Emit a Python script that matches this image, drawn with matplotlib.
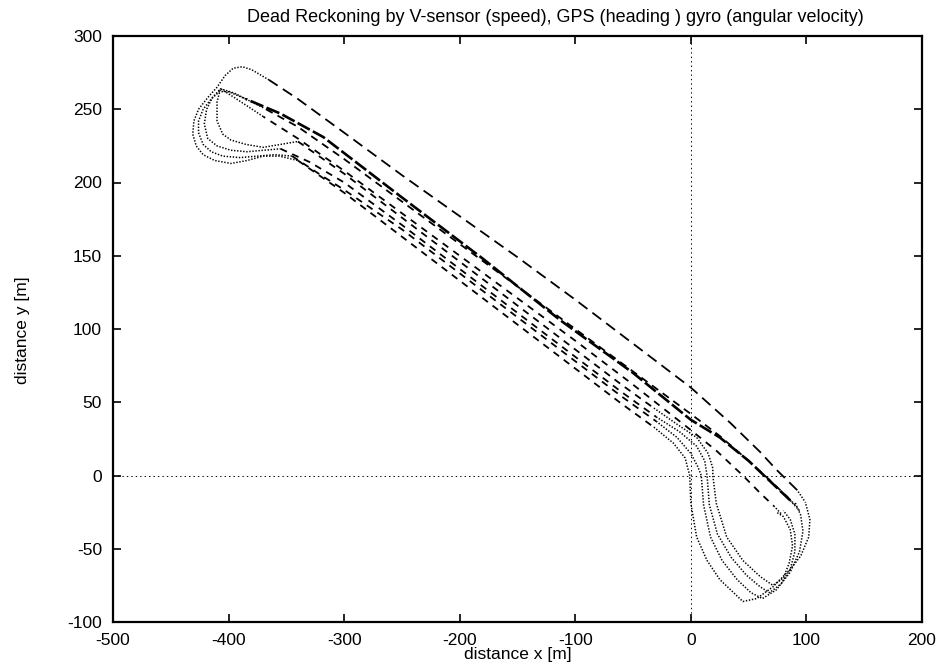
import matplotlib
matplotlib.use("Agg")
import matplotlib.pyplot as plt

plt.rcParams['font.family'] = ['Liberation Sans', 'DejaVu Sans']
plt.rcParams['axes.unicode_minus'] = False
plt.rcParams['lines.scale_dashes'] = False

title = "Dead Reckoning by V-sensor (speed), GPS (heading ) gyro (angular velocity)"
x_label = "distance x [m]"
y_label = "distance y [m]"
x_ticks = [-500, -400, -300, -200, -100, 0, 100, 200]
y_ticks = [-100, -50, 0, 50, 100, 150, 200, 250, 300]

# lap 1 (outermost loops, topmost NW straight)
lap1_x = [98, 92, 74, 60, 34, 0, -50, -100, -150, -200, -250, -300, -340, -365, -380,
          -388, -396, -403, -410, -418, -426, -430, -431, -428, -422, -412, -398, -384, -370, -356, -340,
          -300, -250, -200, -150, -100, -60, -32,
          -15, -5, -1, 0, 5, 14, 25, 37, 45, 57, 71, 86, 95, 102, 103, 99]
lap1_y = [-17, -10, 4, 16, 36, 60, 90, 120, 149, 177, 205, 234, 257, 270, 277,
          279, 278, 273, 265, 258, 250, 242, 233, 225, 219, 215, 213, 215, 218, 218, 215,
          193, 163, 133, 103, 73, 49, 33,
          22, 12, 0, -19, -42, -58, -71, -80, -86, -84, -76, -64, -55, -42, -30, -18]
lap1_splits = [1, 13, 30, 37]

# lap 2 (heavy NW straight)
lap2_x = [94, 86, 70, 50, 25, 0, -50, -113, -180, -252, -318, -355, -385, -400,
          -408, -415, -422, -426, -426, -422, -415, -405, -390, -375, -360, -345,
          -320, -300, -250, -200, -150, -100, -60, -30,
          -12, 0, 6, 9, 11, 17, 27, 40, 52, 62, 74, 86, 94, 97, 95, 90]
lap2_y = [-24, -17, -5, 10, 26, 38, 70, 106, 148, 191, 231, 247, 257, 262,
          262, 257, 250, 242, 234, 226, 221, 218, 217, 218, 219, 218,
          205, 195, 168, 138, 108, 78, 54, 37,
          26, 15, 6, 0, -20, -42, -58, -71, -80, -84, -78, -66, -52, -38, -27, -18]
lap2_splits = [1, 12, 25, 33]

# lap 3
lap3_x = [90, 84, 68, 50, 25, 0, -50, -100, -150, -200, -250, -300, -340, -370, -395,
          -407, -414, -419, -421, -418, -410, -398, -384, -370, -355,
          -330, -300, -250, -200, -150, -100, -60, -30,
          -10, 5, 12, 14, 16, 23, 35, 48, 60, 68, 78, 86, 90, 90, 86, 80]
lap3_y = [-20, -15, -3, 10, 27, 42, 71, 100, 129, 158, 187, 216, 238, 251, 261,
          264, 258, 250, 240, 230, 225, 222, 221, 222, 223,
          214, 200, 171, 141, 111, 81, 57, 40,
          30, 20, 10, 0, -20, -40, -56, -68, -76, -80, -74, -64, -52, -40, -30, -24]
lap3_splits = [1, 13, 24, 32]

# lap 4 (innermost loops)
lap4_x = [78, 72, 60, 45, 22, 0, -50, -100, -150, -200, -250, -300, -340, -370, -395,
          -407, -410, -410, -405, -398, -385, -370, -355, -340,
          -300, -250, -200, -150, -100, -60, -32,
          -12, 5, 15, 19, 19, 22, 31, 45, 60, 71, 80, 85, 88, 86, 80, 74]
lap4_y = [-26, -21, -12, 0, 17, 31, 62, 92, 121, 150, 179, 208, 230, 245, 258,
          264, 255, 242, 233, 229, 226, 224, 226, 228,
          206, 176, 146, 116, 86, 62, 46,
          35, 26, 15, 5, 0, -19, -42, -58, -69, -75, -70, -60, -48, -37, -28, -25]
lap4_splits = [1, 13, 23, 30]

W, H = 941, 670
fig = plt.figure(figsize=(W / 100, H / 100), dpi=100)
ax = fig.add_axes([113 / W, 48 / H, 809 / W, 586 / H])

dotted = dict(color='black', lw=1.1, linestyle=(0, (1.0, 1.2)))
nw_styles = [
    dict(color='black', lw=1.3, linestyle=(0, (8.0, 4.5))),
    dict(color='black', lw=1.9, linestyle=(0, (10.0, 2.5))),
    dict(color='black', lw=1.3, linestyle=(2, (5.5, 4.0))),
    dict(color='black', lw=1.3, linestyle=(4, (5.0, 4.5))),
]
se_style = dict(color='black', lw=1.3, linestyle=(0, (5.0, 4.2)))

laps = [(lap1_x, lap1_y, lap1_splits), (lap2_x, lap2_y, lap2_splits),
        (lap3_x, lap3_y, lap3_splits), (lap4_x, lap4_y, lap4_splits)]

for i, (lx, ly, sp) in enumerate(laps):
    b = [0] + sp + [len(lx) - 1]
    kinds = [dotted, nw_styles[i], dotted, se_style, dotted]
    for k in range(len(b) - 1):
        s, e = b[k], b[k + 1]
        ax.plot(lx[s:e + 1], ly[s:e + 1], **kinds[k])

ax.axhline(0, color='black', lw=0.7, linestyle=(0, (1, 2.2)))
ax.axvline(0, color='black', lw=0.7, linestyle=(0, (1, 2.2)))

ax.set_xlim(-500, 200)
ax.set_ylim(-100, 300)
ax.set_xticks(x_ticks)
ax.set_yticks(y_ticks)
ax.set_xticklabels([str(v) for v in x_ticks])
ax.set_yticklabels([str(v) for v in y_ticks])
ax.tick_params(direction='in', length=6, width=1.2, top=True, right=True,
               labelsize=12.5, pad=8)
for s in ax.spines.values():
    s.set_linewidth(1.6)

fig.text(518 / W, 1 - 655 / H, x_label, ha='center', va='center', fontsize=12.5)
fig.text(23 / W, 1 - 330 / H, y_label, ha='center', va='center', rotation=90, fontsize=12.5)
fig.text(555 / W, 1 - 18 / H, title, ha='center', va='center', fontsize=13)

fig.savefig("out.png", dpi=100)
